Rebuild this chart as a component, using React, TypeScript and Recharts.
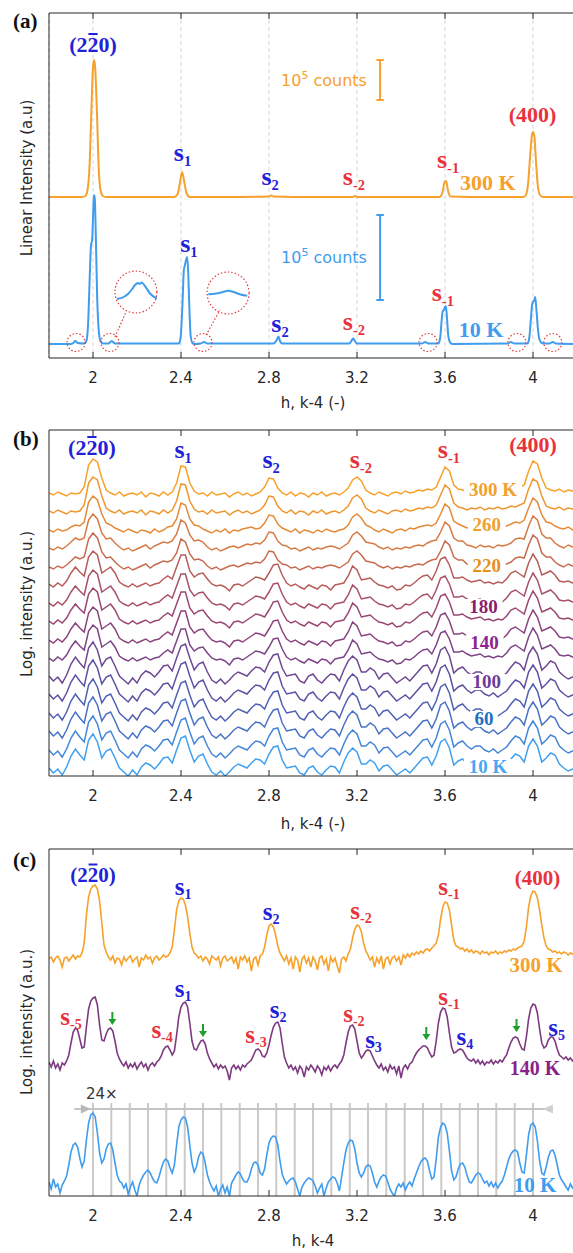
import { LineChart, Line, XAxis, YAxis, CartesianGrid, ReferenceLine, ReferenceDot } from 'recharts'

const SANS = '"DejaVu Sans", Verdana, sans-serif'
const SERIF = '"Liberation Serif", "Times New Roman", serif'
const INK = '#262626'
const BLUE = '#1f22d8'
const RED = '#e8323c'
const ORANGE = '#f6a12c'
const SKY = '#3f9cee'
const PURPLE = '#7d3a80'
const GREEN = '#1e9e2a'
const DOTRED = '#e03a3a'

const xTicks = [2, 2.4, 2.8, 3.2, 3.6, 4]

// ---- (a) linear scans, sampled densely only around the peaks
const hA300 = [1.8, 1.9, 1.95, 1.965, 1.975, 1.985, 1.993, 2.0, 2.005, 2.01, 2.018, 2.026, 2.034, 2.045, 2.06, 2.2, 2.37, 2.385, 2.395, 2.405, 2.415, 2.425, 2.44, 2.6, 2.8, 2.81, 2.82, 3.0, 3.18, 3.19, 3.2, 3.4, 3.575, 3.588, 3.598, 3.605, 3.614, 3.625, 3.8, 3.955, 3.968, 3.978, 3.988, 3.996, 4.0, 4.006, 4.014, 4.022, 4.032, 4.045, 4.2]
const iA300 = [161, 161, 161, 162, 168, 195, 250, 290, 298, 290, 245, 190, 168, 162, 161, 161, 161, 164, 175, 186, 176, 165, 161, 161, 161.5, 162.5, 161.5, 161, 161, 162, 161, 161, 161, 165, 176, 177, 167, 161.5, 161, 161, 163, 175, 205, 224, 226, 222, 195, 172, 163, 161, 161]
const hA10 = [1.8, 1.9, 1.91, 1.92, 1.93, 1.96, 1.97, 1.978, 1.985, 1.991, 1.996, 2.0, 2.004, 2.008, 2.013, 2.019, 2.026, 2.034, 2.045, 2.07, 2.085, 2.1, 2.39, 2.398, 2.406, 2.413, 2.418, 2.423, 2.428, 2.433, 2.438, 2.444, 2.452, 2.46, 2.49, 2.505, 2.52, 2.82, 2.835, 2.843, 2.85, 2.86, 3.165, 3.177, 3.183, 3.19, 3.2, 3.495, 3.51, 3.525, 3.57, 3.578, 3.585, 3.59, 3.595, 3.6, 3.604, 3.609, 3.615, 3.625, 3.635, 3.885, 3.9, 3.915, 3.975, 3.983, 3.99, 3.996, 4.0, 4.006, 4.01, 4.015, 4.022, 4.03, 4.04, 4.05, 4.075, 4.09, 4.105, 4.2]
const iA10 = [14, 14, 15, 17, 15, 14.5, 17, 35, 80, 113, 118, 140, 163, 160, 120, 60, 28, 17, 14.5, 14.5, 17, 14.5, 14.5, 20, 50, 88, 93, 98, 101, 85, 50, 22, 15, 14, 14.5, 16, 14.5, 14.5, 18, 21.5, 17, 14.5, 14.5, 18, 19.5, 17, 14.5, 14.5, 16, 14.5, 14.5, 20, 38, 47, 48, 51, 52, 40, 22, 15, 14, 14.5, 16, 14.5, 14.5, 20, 38, 53, 56, 58, 61, 50, 30, 18, 15, 14.5, 14.5, 16, 14.5, 14]
// magnified insets of the two weak bumps
const insetLH = [2.108, 2.14, 2.161, 2.178, 2.191, 2.205, 2.213, 2.221, 2.236, 2.259, 2.29]
const insetLV = [59, 61, 64.5, 69, 73, 75, 74, 75.5, 72, 64.5, 59.5]
const insetRH = [2.524, 2.56, 2.59, 2.614, 2.64, 2.67, 2.701]
const insetRV = [63.7, 64.5, 66, 67.3, 66, 63.5, 62.3]
const smallRingH = [1.923, 2.077, 2.5, 3.523, 3.927, 4.09]

// ---- (b) log scans, h = 1.80 ... 4.20 step 0.02, heights above each trace's baseline
const profB300 = [
  0, -2, 1, -1, -3, 0, -1, 0, 6, 28,
  34, 31, 15, 3, 0, -2, 1, -3, -1, 0,
  -2, 1, -4, 0, -1, -3, 1, -2, 1, 10,
  27, 26, 10, 2, -1, 0, -3, 1, -2, -1,
  0, -4, -1, 1, -2, 0, -3, -1, 1, 6,
  15, 14, 5, 0, -2, 1, -3, 0, -1, -4,
  0, -2, 1, -3, -1, 0, -2, 1, 5, 13,
  16, 12, 3, 0, -2, 1, -1, -3, 0, 1,
  -1, 2, 0, 1, 3, 2, 4, 3, 6, 16,
  26, 22, 8, 4, 3, 1, 3, 2, 4, 1,
  3, 2, 4, 2, 3, 5, 4, 6, 8, 22,
  32, 29, 15, 5, 3, 2, 4, 1, 3, 2,
  2,
]
const profB260 = [
  0, -2, 1, -1, 0, 3, 5, 4, 8, 28,
  34, 30, 16, 7, 5, 2, 0, -2, 1, -1,
  -3, 0, -1, -3, 1, -2, 0, 3, 4, 11,
  27, 25, 11, 5, 4, 1, -1, -3, 0, -2,
  1, -3, 0, -1, 1, 2, 3, 1, 2, 7,
  15, 14, 6, 2, 0, -2, 1, -3, 0, -1,
  -3, 0, -2, 1, -1, -2, 0, 1, 5, 13,
  16, 12, 5, 3, 0, -2, 1, -1, -3, 0,
  1, -1, 2, 1, 3, 4, 5, 4, 7, 16,
  26, 22, 9, 6, 4, 2, 3, 1, 2, 0,
  2, 1, 3, 2, 4, 6, 8, 7, 10, 22,
  32, 28, 15, 8, 7, 4, 2, 1, 3, 0,
  2,
]
const profB230 = [
  0, -2, 1, -1, 2, 6, 10, 8, 10, 28,
  34, 29, 15, 9, 10, 5, 1, -2, 0, -3,
  -1, 1, 3, -1, 2, 4, 6, 5, 7, 14,
  28, 25, 13, 7, 8, 6, 1, -2, 0, -3,
  -1, 1, 2, 0, 2, 4, 3, 5, 4, 8,
  16, 15, 7, 3, 2, -1, 0, -3, -1, 1,
  -2, 0, -1, 1, 2, 1, -1, 2, 5, 13,
  16, 12, 6, 5, 4, 1, -1, 1, -2, 0,
  -1, 1, 0, 2, 3, 2, 5, 7, 8, 16,
  26, 22, 10, 7, 7, 3, 2, 0, 3, 1,
  2, 0, 3, 2, 3, 5, 9, 10, 9, 22,
  32, 28, 14, 10, 10, 5, 2, 0, 3, 1,
  2,
]
const profB160 = [
  1, -2, 2, -1, 4, 12, 18, 13, 9, 28,
  34, 30, 12, 15, 18, 12, 3, 0, -2, 1,
  -2, 0, 2, -1, 1, 2, 6, 9, 6, 18,
  30, 30, 14, 8, 11, 12, 6, 1, -1, 0,
  -2, -6, 0, 1, -1, 2, 5, 8, 7, 5,
  12, 20, 21, 10, 2, -1, 1, -2, -4, 0,
  -2, -4, 0, -1, -5, 0, 1, 2, 9, 19,
  15, 5, 6, 7, 3, 0, -1, -3, -1, -5,
  -4, 0, -1, 2, 6, 9, 10, 5, 14, 26,
  28, 20, 7, 7, 8, 5, 3, 4, 5, 2,
  3, 1, 3, 2, 6, 12, 14, 11, 8, 22,
  31, 24, 10, 12, 14, 10, 4, 3, 4, 2,
  3,
]
const profB60 = [
  2, -3, 1, -5, 3, 14, 21, 15, 10, 30,
  36, 28, 12, 19, 21, 12, 2, -2, -6, 0,
  -5, 3, 7, 5, 1, 6, 12, 13, 7, 20,
  32, 34, 20, 8, 14, 16, 6, -2, -5, -1,
  -6, -2, 3, 6, 4, 2, 7, 11, 10, 6,
  16, 23, 24, 10, 2, 3, 4, -3, -5, 2,
  4, -2, -5, 0, 4, 3, -3, 8, 17, 22,
  18, 6, 6, 10, 7, -1, 4, 5, 0, -5,
  -2, 1, -3, 2, 7, 12, 13, 5, 14, 28,
  31, 22, 5, 9, 11, 6, 3, 6, 6, 2,
  0, 3, -1, 2, 5, 11, 16, 14, 8, 24,
  31, 24, 8, 12, 17, 15, 6, 2, -1, 1,
  0,
]
const tempsB = [300, 280, 260, 240, 220, 200, 180, 160, 140, 120, 100, 80, 60, 40, 20, 10]
const offsetB = [283, 265, 246, 228, 209, 191, 172, 154, 135, 117, 98, 80, 61, 43, 24, 6]
const profileOfB = [profB300, profB300, profB260, profB230, profB230, profB160, profB160, profB160, profB160, profB160, profB60, profB60, profB60, profB60, profB60, profB60]
const colorsB = ['#f7a12a', '#f0962e', '#e58a36', '#d67a44', '#c86a4e', '#b85c5a', '#a85066', '#9a4872', '#8c447e', '#7e4488', '#6e4894', '#5e50a2', '#5060b4', '#4872c6', '#4486d8', '#40a0f0']

// ---- (c) log scans, h = 1.80 ... 4.20 step 0.01
const profC300 = [
  -4, -2, -7, -3, -1, -5, -12, -3, -2, -6,
  -3, 0, -4, -1, -2, 2, 12, 40, 58, 66,
  69, 70, 66, 54, 32, 10, 3, -2, -5, -1,
  -8, -3, -4, -10, -2, -6, -3, -1, -7, -4,
  -2, -12, -3, -5, 0, -4, -2, -8, -3, -1,
  -5, -3, 0, -2, -1, 2, 8, 25, 45, 54,
  57, 56, 50, 38, 22, 8, 2, 0, -3, -1,
  -6, -2, -4, -9, -1, -3, -5, -2, -11, -3,
  -1, -6, -4, -2, -8, -3, -14, -2, -5, -1,
  -7, -3, -16, -4, -2, -10, -1, 1, 8, 20,
  29, 31, 28, 20, 9, 2, -2, -6, -1, -9,
  -3, -14, -2, -5, -17, -4, -1, -8, -3, -12,
  -2, -6, -15, -3, -1, -9, -4, -16, -2, -7,
  -3, -11, -18, -4, -2, -6, 1, 6, 17, 26,
  30, 29, 23, 12, 4, 0, -5, -2, -12, -3,
  -8, -1, -14, -4, -2, -9, -3, -1, -6, -2,
  -10, 0, -3, 1, -2, 2, 0, 3, 1, 4,
  2, 5, 6, 4, 7, 9, 12, 20, 36, 48,
  53, 52, 45, 30, 15, 9, 8, 6, 7, 4,
  6, 3, 5, 2, 4, 3, 1, 4, 2, 3,
  0, 3, 2, 4, 1, 3, 2, 4, 3, 5,
  4, 6, 5, 7, 8, 9, 14, 28, 48, 59,
  64, 63, 57, 45, 30, 17, 9, 6, 5, 3,
  4, 2, 3, 1, 3, 2, 0, 2, 1, 3,
  1,
]
const profC140 = [
  3, -2, 4, -3, 1, -5, 2, 0, 4, 10,
  22, 33, 37, 35, 26, 17, 18, 38, 56, 64,
  67, 68, 60, 40, 25, 24, 31, 36, 37, 34,
  24, 12, 6, 2, -1, 3, -3, 1, -2, 2,
  -4, 0, 3, -2, 1, -5, 0, 2, -1, 3,
  5, 9, 15, 18, 19, 15, 10, 14, 30, 48,
  58, 62, 63, 58, 42, 24, 16, 15, 20, 24,
  25, 21, 12, 6, 2, -2, 1, -4, 0, -3,
  -1, -6, -15, -3, 0, -4, -1, -5, 0, -2,
  1, 3, 5, 10, 15, 16, 14, 9, 8, 12,
  20, 30, 38, 42, 43, 37, 22, 8, 2, -3,
  0, -5, -2, -8, -1, -4, -12, -2, -5, 0,
  -3, -7, -1, -4, -10, -2, -5, -1, -6, -2,
  0, -3, 1, 4, 10, 22, 33, 39, 40, 36,
  24, 12, 7, 10, 14, 15, 14, 9, 4, 0,
  -3, 1, -5, -2, -7, 0, -4, -2, -9, -1,
  -13, -3, 0, -4, 1, 3, 8, 12, 15, 17,
  19, 19, 17, 12, 8, 10, 24, 42, 53, 57,
  56, 48, 32, 18, 12, 13, 15, 16, 15, 11,
  7, 5, 4, 6, 2, 5, 1, 4, 0, 3,
  2, 5, 1, 4, 2, 5, 3, 7, 10, 17,
  23, 27, 28, 27, 21, 16, 15, 28, 46, 57,
  61, 60, 52, 36, 22, 17, 19, 25, 28, 28,
  24, 16, 10, 8, 6, 8, 5, 7, 4, 6,
  5,
]
const profC10 = [
  3, -4, 6, -2, 1, -8, 0, 4, 9, 20,
  33, 40, 42, 38, 27, 18, 24, 45, 62, 70,
  72, 68, 52, 32, 22, 26, 36, 41, 42, 35,
  22, 10, 4, 2, -3, 1, -9, -2, 3, -5,
  -11, 0, 6, 10, 13, 15, 12, 7, 3, 2,
  8, 16, 23, 26, 24, 17, 12, 20, 40, 58,
  65, 68, 67, 58, 40, 22, 13, 18, 28, 33,
  31, 22, 10, 3, -2, -6, -1, -11, -4, 0,
  -8, -2, -11, 2, 6, 10, 13, 11, 6, 3,
  3, 8, 16, 22, 23, 20, 12, 10, 16, 30,
  42, 47, 49, 48, 40, 24, 11, 5, 1, 4,
  6, 7, 3, -4, -11, -2, 2, 5, 7, 6,
  4, -1, -8, -3, 1, -11, -3, 3, 6, 8,
  7, 2, -6, 8, 22, 35, 42, 45, 44, 36,
  22, 12, 8, 12, 18, 20, 19, 12, 3, -2,
  4, 8, 10, 9, 3, -4, -8, -11, -3, 1,
  -2, 2, -5, 0, 3, -1, 6, 12, 18, 23,
  26, 27, 24, 14, 6, 8, 26, 48, 58, 62,
  60, 52, 34, 14, 5, 8, 16, 21, 22, 18,
  10, 3, 2, 6, 10, 12, 11, 6, 2, 4,
  -1, 3, -2, 2, -3, 1, 4, 10, 18, 26,
  31, 34, 35, 33, 22, 13, 12, 30, 50, 60,
  62, 58, 44, 24, 12, 10, 18, 28, 34, 35,
  30, 20, 10, 5, 2, -2, -5, 1, -3, 0,
  2,
]
const offsetC300 = 241
const offsetC140 = 131
const offsetC10 = 11
// 24 equal steps between (2-20) and (400)
const fringeH = [2, 2.083, 2.167, 2.25, 2.333, 2.417, 2.5, 2.583, 2.667, 2.75, 2.833, 2.917, 3, 3.083, 3.167, 3.25, 3.333, 3.417, 3.5, 3.583, 3.667, 3.75, 3.833, 3.917, 4]
const arrowTipH = [2.088, 2.5, 3.515, 3.925]
const arrowTipV = [171, 159, 156, 164]

const gridB = Array.from({ length: 121 }, (_, i) => Math.round((1.8 + i * 0.02) * 100) / 100)
const gridC = Array.from({ length: 241 }, (_, i) => Math.round((1.8 + i * 0.01) * 100) / 100)
const rows = (hs: number[], vs: number[], off = 0) => hs.map((h, i) => ({ h, v: vs[i] + off }))

type Tag = { h: number; v: number; t: string; sub?: string; c: string; fs: number; bar?: boolean; box?: number }

const tagShape = (g: Tag) => (p: any) => {
  const cx = p.cx ?? 0
  const cy = p.cy ?? 0
  return (
    <g>
      {g.box ? <rect x={cx - g.box / 2} y={cy - g.fs * 0.42} width={g.box} height={g.fs * 0.84} fill="#fff" /> : null}
      <text x={cx} y={cy + g.fs * (g.sub ? 0.2 : 0.34)} textAnchor="middle" fontFamily={SERIF} fontWeight="bold" fontSize={g.fs} fill={g.c}>
        {g.t}
        {g.sub ? <tspan fontSize={g.fs * 0.56} dy={g.fs * 0.17}>{g.sub}</tspan> : null}
      </text>
      {g.bar ? <line x1={cx - g.fs * 0.21} x2={cx + g.fs * 0.21} y1={cy - g.fs * 0.5} y2={cy - g.fs * 0.5} stroke={g.c} strokeWidth={2} /> : null}
    </g>
  )
}

const tags = (list: Tag[]) =>
  list.map((g, i) => <ReferenceDot key={`tag${i}`} x={g.h} y={g.v} r={0} ifOverflow="visible" shape={tagShape(g)} />)

const countsNote = (h: number, v: number, c: string, key: string) => (
  <ReferenceDot key={key} x={h} y={v} r={0} ifOverflow="visible"
    shape={(p: any) => (
      <text x={p.cx} y={p.cy + 6} textAnchor="middle" fontFamily={SANS} fontSize={16} fill={c}>
        10<tspan dy={-7} fontSize={11}>5</tspan><tspan dy={7}> counts</tspan>
      </text>
    )}
  />
)

const frame = (top: number) => [
  <ReferenceLine key="ftop" y={top} stroke={INK} strokeWidth={1} ifOverflow="visible" />,
  ...xTicks.flatMap((t) => [
    <ReferenceLine key={`fb${t}`} segment={[{ x: t, y: 0 }, { x: t, y: 6 }]} stroke={INK} ifOverflow="visible" />,
    <ReferenceLine key={`ft${t}`} segment={[{ x: t, y: top - 6 }, { x: t, y: top }]} stroke={INK} ifOverflow="visible" />,
  ]),
]

const xAxisEl = (title: string, titleY: number) => (
  <XAxis type="number" dataKey="h" domain={[1.8, 4.2]} allowDataOverflow ticks={xTicks} interval={0}
    tickLine={false} tickSize={0} tickMargin={14} height={51} axisLine={{ stroke: INK }}
    tick={{ fill: INK, fontSize: 15, fontFamily: SANS }}
    label={() => (
      <text x={313} y={titleY} textAnchor="middle" fontFamily={SANS} fontSize={15} fill={INK}>{title}</text>
    )}
  />
)

const yAxisEl = (top: number, title: string, cy: number) => (
  <YAxis type="number" domain={[0, top]} allowDataOverflow tick={false} tickLine={false} width={40} axisLine={{ stroke: INK }}
    label={() => (
      <text x={27} y={cy} dy={5} transform={`rotate(-90 27 ${cy})`} textAnchor="middle" fontFamily={SANS} fontSize={15} fill={INK}>{title}</text>
    )}
  />
)

const smooth = { type: 'monotone' as const, dataKey: 'v', dot: false, activeDot: false, isAnimationActive: false }
const raw = { type: 'linear' as const, dataKey: 'v', dot: false, activeDot: false, isAnimationActive: false }

const panelLetter = (t: string, top: number) => (
  <div style={{ position: 'absolute', left: 13, top, fontFamily: SERIF, fontWeight: 'bold', fontSize: 21, lineHeight: '21px', color: '#111' }}>{t}</div>
)

const tagsA: Tag[] = [
  { h: 2.0, v: 313, t: '(220)', c: BLUE, fs: 22, bar: true },
  { h: 2.407, v: 202, t: 's', sub: '1', c: BLUE, fs: 26 },
  { h: 2.805, v: 178, t: 's', sub: '2', c: BLUE, fs: 26 },
  { h: 3.186, v: 178, t: 's', sub: '-2', c: RED, fs: 26 },
  { h: 3.614, v: 195, t: 's', sub: '-1', c: RED, fs: 26 },
  { h: 3.998, v: 243, t: '(400)', c: RED, fs: 22 },
  { h: 2.436, v: 111, t: 's', sub: '1', c: BLUE, fs: 26 },
  { h: 2.85, v: 31, t: 's', sub: '2', c: BLUE, fs: 26 },
  { h: 3.186, v: 33, t: 's', sub: '-2', c: RED, fs: 26 },
  { h: 3.59, v: 62, t: 's', sub: '-1', c: RED, fs: 26 },
  { h: 3.795, v: 175, t: '300 K', c: ORANGE, fs: 22 },
  { h: 3.764, v: 28, t: '10 K', c: SKY, fs: 22 },
]

const tagsB: Tag[] = [
  { h: 1.995, v: 328, t: '(220)', c: BLUE, fs: 22, bar: true },
  { h: 2.41, v: 323, t: 's', sub: '1', c: BLUE, fs: 26 },
  { h: 2.81, v: 313, t: 's', sub: '2', c: BLUE, fs: 26 },
  { h: 3.218, v: 313, t: 's', sub: '-2', c: RED, fs: 26 },
  { h: 3.618, v: 323, t: 's', sub: '-1', c: RED, fs: 26 },
  { h: 4.0, v: 331, t: '(400)', c: RED, fs: 22 },
  { h: 3.818, v: 286, t: '300 K', c: '#f2a12e', fs: 19, box: 58 },
  { h: 3.79, v: 251, t: '260', c: '#efa02e', fs: 19, box: 38 },
  { h: 3.79, v: 210, t: '220', c: '#e8901c', fs: 19, box: 38 },
  { h: 3.775, v: 169, t: '180', c: '#8a1d6b', fs: 19, box: 38 },
  { h: 3.78, v: 133, t: '140', c: '#8d2390', fs: 19, box: 38 },
  { h: 3.79, v: 94, t: '100', c: '#6b3a9c', fs: 19, box: 38 },
  { h: 3.777, v: 57, t: '60', c: '#1e6fc2', fs: 19, box: 28 },
  { h: 3.795, v: 9, t: '10 K', c: '#4aa6f2', fs: 19, box: 48 },
]

const tagsC: Tag[] = [
  { h: 2.0, v: 321, t: '(220)', c: BLUE, fs: 21, bar: true },
  { h: 2.41, v: 306, t: 's', sub: '1', c: BLUE, fs: 25 },
  { h: 2.81, v: 281, t: 's', sub: '2', c: BLUE, fs: 25 },
  { h: 3.218, v: 282, t: 's', sub: '-2', c: RED, fs: 25 },
  { h: 3.618, v: 306, t: 's', sub: '-1', c: RED, fs: 25 },
  { h: 4.02, v: 318, t: '(400)', c: RED, fs: 21 },
  { h: 4.014, v: 231, t: '300 K', c: ORANGE, fs: 21 },
  { h: 1.9, v: 176, t: 's', sub: '-5', c: RED, fs: 25 },
  { h: 2.41, v: 204, t: 's', sub: '1', c: BLUE, fs: 25 },
  { h: 2.314, v: 163, t: 's', sub: '-4', c: RED, fs: 25 },
  { h: 2.741, v: 158, t: 's', sub: '-3', c: RED, fs: 25 },
  { h: 2.841, v: 183, t: 's', sub: '2', c: BLUE, fs: 25 },
  { h: 3.186, v: 179, t: 's', sub: '-2', c: RED, fs: 25 },
  { h: 3.275, v: 153, t: 's', sub: '3', c: BLUE, fs: 25 },
  { h: 3.618, v: 196, t: 's', sub: '-1', c: RED, fs: 25 },
  { h: 3.69, v: 156, t: 's', sub: '4', c: BLUE, fs: 25 },
  { h: 4.107, v: 165, t: 's', sub: '5', c: BLUE, fs: 25 },
  { h: 4.009, v: 128, t: '140 K', c: '#8b1f8b', fs: 20 },
  { h: 4.009, v: 11, t: '10 K', c: SKY, fs: 21 },
]

const bar = (h: number, lo: number, hi: number, c: string, key: string) => [
  <ReferenceLine key={`${key}s`} segment={[{ x: h, y: lo }, { x: h, y: hi }]} stroke={c} strokeWidth={2} />,
  <ReferenceLine key={`${key}l`} segment={[{ x: h - 0.017, y: lo }, { x: h + 0.017, y: lo }]} stroke={c} strokeWidth={2} />,
  <ReferenceLine key={`${key}h`} segment={[{ x: h - 0.017, y: hi }, { x: h + 0.017, y: hi }]} stroke={c} strokeWidth={2} />,
]

export default function App() {
  const linesB = tempsB.map((T, k) => ({ T, color: colorsB[k], data: gridB.map((h, i) => ({ h, v: offsetB[k] + profileOfB[k][i] })) }))

  return (
    <div style={{ position: 'absolute', left: 0, top: 0, width: 573, height: 1253, overflow: 'hidden', background: '#fff' }}>
      {/* (a) */}
      <div style={{ position: 'absolute', left: 0, top: 0 }}>
        <LineChart width={600} height={419} margin={{ top: 13, right: 23, bottom: 10, left: 9 }}>
          <CartesianGrid horizontal={false} stroke="#d6d6d6" strokeDasharray="4 3" />
          {xAxisEl('h, k-4 (-)', 408)}
          {yAxisEl(345, 'Linear Intensity (a.u)', 178)}
          {frame(345)}
          {bar(3.305, 258, 298, ORANGE, 'ob')}
          {bar(3.305, 58, 143, SKY, 'bb')}
          {countsNote(3.05, 278, ORANGE, 'on')}
          {countsNote(3.05, 101, SKY, 'bn')}
          <Line {...smooth} data={rows(hA300, iA300)} stroke={ORANGE} strokeWidth={2} />
          <Line {...smooth} data={rows(hA10, iA10)} stroke={SKY} strokeWidth={2} />
          <Line {...smooth} data={rows(insetLH, insetLV)} stroke={SKY} strokeWidth={2} />
          <Line {...smooth} data={rows(insetRH, insetRV)} stroke={SKY} strokeWidth={2} />
          {smallRingH.map((h, i) => (
            <ReferenceDot key={`ring${i}`} x={h} y={15.5} r={9} fill="none" stroke={DOTRED} strokeWidth={1.2} strokeDasharray="1.5 2" ifOverflow="visible" />
          ))}
          <ReferenceDot x={2.195} y={66} r={21} fill="none" stroke={DOTRED} strokeWidth={1.2} strokeDasharray="1.5 2" />
          <ReferenceDot x={2.614} y={65} r={21} fill="none" stroke={DOTRED} strokeWidth={1.2} strokeDasharray="1.5 2" />
          <ReferenceLine segment={[{ x: 2.1, y: 21 }, { x: 2.15, y: 46 }]} stroke={DOTRED} strokeWidth={1.2} strokeDasharray="1.5 2" />
          <ReferenceLine segment={[{ x: 2.514, y: 23 }, { x: 2.577, y: 48 }]} stroke={DOTRED} strokeWidth={1.2} strokeDasharray="1.5 2" />
          {tags(tagsA)}
        </LineChart>
      </div>

      {/* (b) */}
      <div style={{ position: 'absolute', left: 0, top: 410 }}>
        <LineChart width={600} height={427} margin={{ top: 20, right: 23, bottom: 10, left: 9 }}>
          {xAxisEl('h, k-4 (-)', 419)}
          {yAxisEl(346, 'Log. intensity (a.u.)', 194)}
          {frame(346)}
          {linesB.map((l) => (
            <Line key={l.T} {...raw} data={l.data} stroke={l.color} strokeWidth={1.5} />
          ))}
          {tags(tagsB)}
        </LineChart>
      </div>

      {/* (c) */}
      <div style={{ position: 'absolute', left: 0, top: 829 }}>
        <LineChart width={600} height={428} margin={{ top: 20, right: 23, bottom: 10, left: 9 }}>
          {xAxisEl('h, k-4', 417)}
          {yAxisEl(347, 'Log. intensity (a.u.)', 193)}
          {frame(347)}
          {fringeH.map((h) => (
            <ReferenceLine key={`fr${h}`} segment={[{ x: h, y: 0 }, { x: h, y: 93 }]} stroke="#cacaca" strokeWidth={2} />
          ))}
          <ReferenceLine segment={[{ x: 1.915, y: 87 }, { x: 4.09, y: 87 }]} stroke="#c4c4c4" strokeWidth={2} />
          <ReferenceDot x={1.99} y={87} r={0} shape={(p: any) => (
            <polygon points={`${p.cx},${p.cy} ${p.cx - 10},${p.cy - 4.5} ${p.cx - 10},${p.cy + 4.5}`} fill="#b8b8b8" />
          )} />
          <ReferenceDot x={4.045} y={87} r={0} shape={(p: any) => (
            <polygon points={`${p.cx},${p.cy} ${p.cx + 10},${p.cy - 4.5} ${p.cx + 10},${p.cy + 4.5}`} fill="#cfcfcf" />
          )} />
          <ReferenceDot x={2.04} y={103} r={0} shape={(p: any) => (
            <text x={p.cx} y={p.cy + 6} textAnchor="middle" fontFamily={SANS} fontSize={15} fill="#333">24×</text>
          )} />
          <Line {...raw} data={rows(gridC, profC300, offsetC300)} stroke={ORANGE} strokeWidth={1.6} />
          <Line {...raw} data={rows(gridC, profC140, offsetC140)} stroke={PURPLE} strokeWidth={1.6} />
          <Line {...raw} data={rows(gridC, profC10, offsetC10)} stroke={SKY} strokeWidth={1.6} />
          {arrowTipH.map((h, i) => (
            <ReferenceDot key={`ar${i}`} x={h} y={arrowTipV[i]} r={0} shape={(p: any) => (
              <g>
                <line x1={p.cx} y1={p.cy - 13} x2={p.cx} y2={p.cy - 5} stroke={GREEN} strokeWidth={2} />
                <polygon points={`${p.cx - 4},${p.cy - 6} ${p.cx + 4},${p.cy - 6} ${p.cx},${p.cy}`} fill={GREEN} />
              </g>
            )} />
          ))}
          {tags(tagsC)}
        </LineChart>
      </div>

      {panelLetter('(a)', 11)}
      {panelLetter('(b)', 429)}
      {panelLetter('(c)', 850)}
    </div>
  )
}
